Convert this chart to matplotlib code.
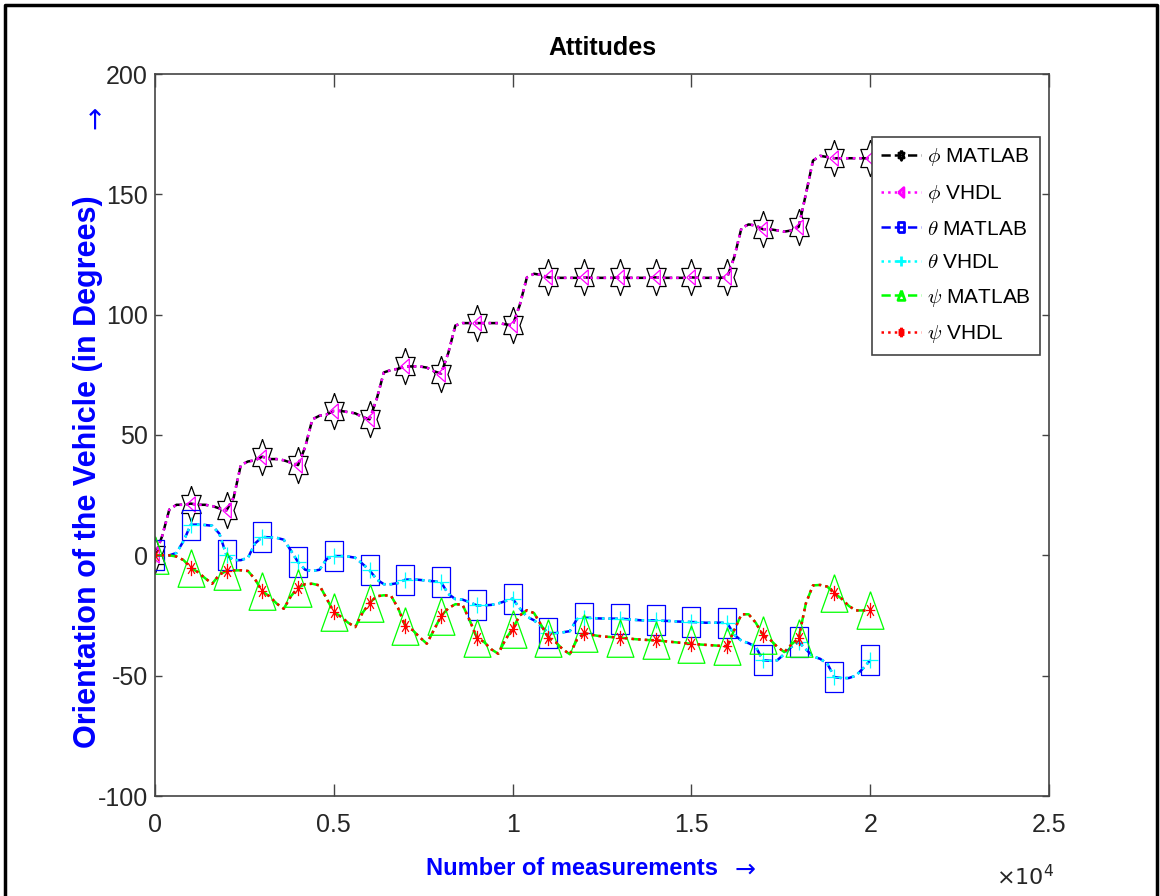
"""Attitudes: MATLAB vs VHDL orientation estimates (phi, theta, psi)."""

import matplotlib

matplotlib.use("Agg")
import matplotlib.pyplot as plt
import numpy as np
from matplotlib import font_manager
from matplotlib.lines import Line2D
from matplotlib.path import Path

# samples every 200 measurements, markers every 1000
SAMPLES = list(range(0, 20001, 200))

PHI = [
    0, 8, 19, 21, 21, 21.5, 21, 21, 20.5, 19.5,
    18.7, 24, 37.5, 39, 39.5, 41, 40, 40, 39.5, 38.5,
    37.5, 45, 56.5, 58, 58.5, 60, 60, 59.5, 59, 57.5,
    56.5, 65, 76, 77, 77.5, 78.5, 78.5, 78.5, 78, 76.5,
    75.5, 84, 95.5, 96.5, 96.5, 96.5, 96.5, 96.5, 96.5, 96,
    95.5, 104, 115.5, 117, 116.5, 115.5, 115.3, 115.3, 115.3, 115.3,
    115.5, 115.3, 115.3, 115.3, 115.3, 115.5, 115.3, 115.3, 115.3, 115.3,
    115.5, 115.3, 115.3, 115.3, 115.3, 115.5, 115.3, 115.3, 115.3, 115.3,
    115.5, 124, 136, 137.5, 137, 135.5, 135.5, 135, 134.5, 135,
    136.5, 150, 164, 166, 165.5, 165, 165, 165, 165, 165,
    165,
]
THETA = [
    0, 0, 0, 1, 6, 12.7, 12.8, 12.6, 12.3, 9,
    0, -2, -2, -1, 5, 7.6, 7.5, 7.3, 6.5, 2,
    -2.8, -6, -6.5, -6, -1.5, -0.3, -0.3, -0.5, -1, -3.5,
    -6.2, -10, -12, -12, -11.5, -10.1, -10, -10.2, -10.5, -10.8,
    -11.2, -16, -18.2, -18.4, -19.5, -20.8, -20.8, -20.6, -20, -19,
    -18, -22, -25.5, -27, -29.5, -32.3, -32.3, -32, -31.5, -26.5,
    -25.9, -26, -26.2, -26.3, -26.3, -26.3, -26.5, -26.8, -27, -27,
    -27, -27.2, -27.3, -27.5, -27.6, -27.7, -27.8, -28, -28, -28,
    -28.1, -33, -35.5, -36.5, -38, -43.6, -43.8, -43.6, -41, -38,
    -36, -39, -42, -43, -45, -50.6, -51, -51, -50, -47,
    -43.6,
]
PSI = [
    0, 0, 0, -0.5, -2, -5.1, -7, -9.5, -11.8, -8,
    -6.5, -6.3, -6.2, -6.5, -10, -15, -17, -20, -22.2, -17,
    -13.4, -12, -11.8, -12.5, -18, -23.5, -25.5, -28, -29.8, -24,
    -19.8, -17, -16.6, -16.8, -22, -29.4, -31, -34, -36.7, -31,
    -25.3, -22, -20.3, -20.5, -27, -34.2, -36, -39, -40.9, -35,
    -30.5, -25, -22.8, -24, -29, -34.2, -36, -39, -41.1, -35,
    -32.3, -33, -33.5, -33.8, -34, -34.2, -34.5, -34.8, -35, -35.2,
    -35.3, -35.6, -35.9, -36.2, -36.5, -36.7, -37, -37.2, -37.4, -37.6,
    -37.8, -31, -24.5, -24.5, -28, -33.2, -35, -38, -40.2, -37,
    -34.4, -20, -12.5, -12.3, -13, -15.8, -18, -21, -22.9, -22.9,
    -22.9,
]
# the VHDL implementation tracks MATLAB to within the line width
PHI_VHDL = PHI
THETA_VHDL = THETA
PSI_VHDL = PSI

LABELS = [r"$\phi$ MATLAB", r"$\phi$ VHDL", r"$\theta$ MATLAB",
          r"$\theta$ VHDL", r"$\psi$ MATLAB", r"$\psi$ VHDL"]

_names = {f.name for f in font_manager.fontManager.ttflist}
NARROW = "Liberation Sans Narrow" if "Liberation Sans Narrow" in _names else "Liberation Sans"
WIDE = "Liberation Sans"

plt.rcParams["axes.unicode_minus"] = False
plt.rcParams["mathtext.fontset"] = "cm"

SQUEEZE = 0.62  # source image is squashed horizontally


def squashed(verts):
    v = np.asarray(verts, dtype=float)
    v[:, 0] *= SQUEEZE
    return Path(v)


def star6():
    ang = np.pi / 2 + np.arange(12) * np.pi / 6
    r = np.where(np.arange(12) % 2 == 0, 1.0, 1 / np.sqrt(3))
    pts = np.c_[r * np.cos(ang), r * np.sin(ang)]
    return squashed(np.vstack([pts, pts[:1]]))


def asterisk():
    codes, verts = [], []
    for a in np.arange(4) * np.pi / 4:
        verts += [(-np.cos(a), -np.sin(a)), (np.cos(a), np.sin(a))]
        codes += [Path.MOVETO, Path.LINETO]
    v = np.array(verts)
    v[:, 0] *= SQUEEZE
    return Path(v, codes)


HEXAGRAM = star6()
BOX = squashed([[-1, -1], [1, -1], [1, 1], [-1, 1], [-1, -1]])
TRI = squashed([[0, 1], [-1.155, -1], [1.155, -1], [0, 1]])
LEFT_TRI = squashed([[-1, 0], [0.8, 1], [0.8, -1], [-1, 0]])
ASTER = asterisk()

SERIES = [
    (PHI, "k", "--", HEXAGRAM, 26),
    (PHI_VHDL, "#ff00ff", ":", LEFT_TRI, 11),
    (THETA, "#0000ff", "--", BOX, 21),
    (THETA_VHDL, "#00ffff", ":", "+", 12),
    (PSI, "#00ff00", "--", TRI, 27),
    (PSI_VHDL, "#ff0000", ":", ASTER, 11),
]

fig = plt.figure(figsize=(11.6, 8.96), dpi=100)
ax = fig.add_axes([155 / 1160, 1 - 796 / 896, (1049 - 155) / 1160, (796 - 74) / 896])

x = np.array(SAMPLES)
marks = [i for i, s in enumerate(SAMPLES) if s % 1000 == 0]
handles = []
for (vals, col, ls, mk, ms), lab in zip(SERIES, LABELS):
    ax.plot(x, vals, color=col, ls=ls, lw=1.8, marker=mk, ms=ms,
            mfc="none", mec=col, mew=0.9, markevery=marks)
    handles.append(Line2D([], [], color=col, ls=ls, lw=1.8, marker=mk,
                          ms=7, mfc="none", mec=col, mew=2))

ax.set_xlim(0, 25000)
ax.set_ylim(-100, 200)
ax.set_xticks([0, 5000, 10000, 15000, 20000, 25000])
ax.set_xticklabels(["0", "0.5", "1", "1.5", "2", "2.5"])
ax.set_yticks([-100, -50, 0, 50, 100, 150, 200])
ax.set_yticklabels(["-100", "-50", "0", "50", "100", "150", "200"])

for side in ax.spines.values():
    side.set_color("#444444")
    side.set_linewidth(1.2)
ax.tick_params(axis="both", direction="in", top=True, right=True,
               color="#444444", labelcolor="#262626", width=1)
ax.tick_params(axis="x", length=9, pad=12)
ax.tick_params(axis="y", length=5, pad=5)
for t in ax.get_xticklabels() + ax.get_yticklabels():
    t.set_fontfamily(NARROW)
    t.set_fontsize(18)

ax.set_title("Attitudes", fontsize=18, fontweight="bold", family=NARROW, pad=14)

blue = "#0000ff"
fig.text(88 / 1160, 1 - 472 / 896, "Orientation of the Vehicle (in Degrees)",
         rotation=90, ha="center", va="center", color=blue, fontsize=22,
         fontweight="bold", family=WIDE)
fig.text(95 / 1160, 1 - 117 / 896, "\u2192", rotation=90, ha="center",
         va="center", color=blue, fontsize=20, family=["DejaVu Sans"])
fig.text(572 / 1160, 1 - 868 / 896, "Number of measurements", ha="center",
         va="center", color=blue, fontsize=17, fontweight="bold", family=NARROW)
fig.text(745 / 1160, 1 - 870 / 896, "\u2192", ha="center", va="center",
         color=blue, fontsize=18, family=["DejaVu Sans"])
fig.text(1025 / 1160, 1 - 878 / 896, r"$\times10^{4}$", ha="center",
         va="center", color="#262626", fontsize=16, family=NARROW,
         math_fontfamily="dejavusans")

leg = ax.legend(handles, LABELS, loc="upper right",
                bbox_to_anchor=(1040 / 1160, 1 - 137 / 896),
                bbox_transform=fig.transFigure, borderaxespad=0,
                prop={"family": NARROW, "size": 15}, handlelength=1.9,
                handletextpad=0.3, labelspacing=0.7, borderpad=0.45,
                fancybox=False, framealpha=1)
leg.get_frame().set_edgecolor("#444444")
leg.get_frame().set_linewidth(1.2)

# outer figure frame (left, top, right edges)
fig.add_artist(Line2D([5 / 1160, 5 / 1160, 1157 / 1160, 1157 / 1160],
                      [0, 1 - 5 / 896, 1 - 5 / 896, 0],
                      transform=fig.transFigure, color="k", lw=2.5))

fig.savefig("out.png", dpi=100)
